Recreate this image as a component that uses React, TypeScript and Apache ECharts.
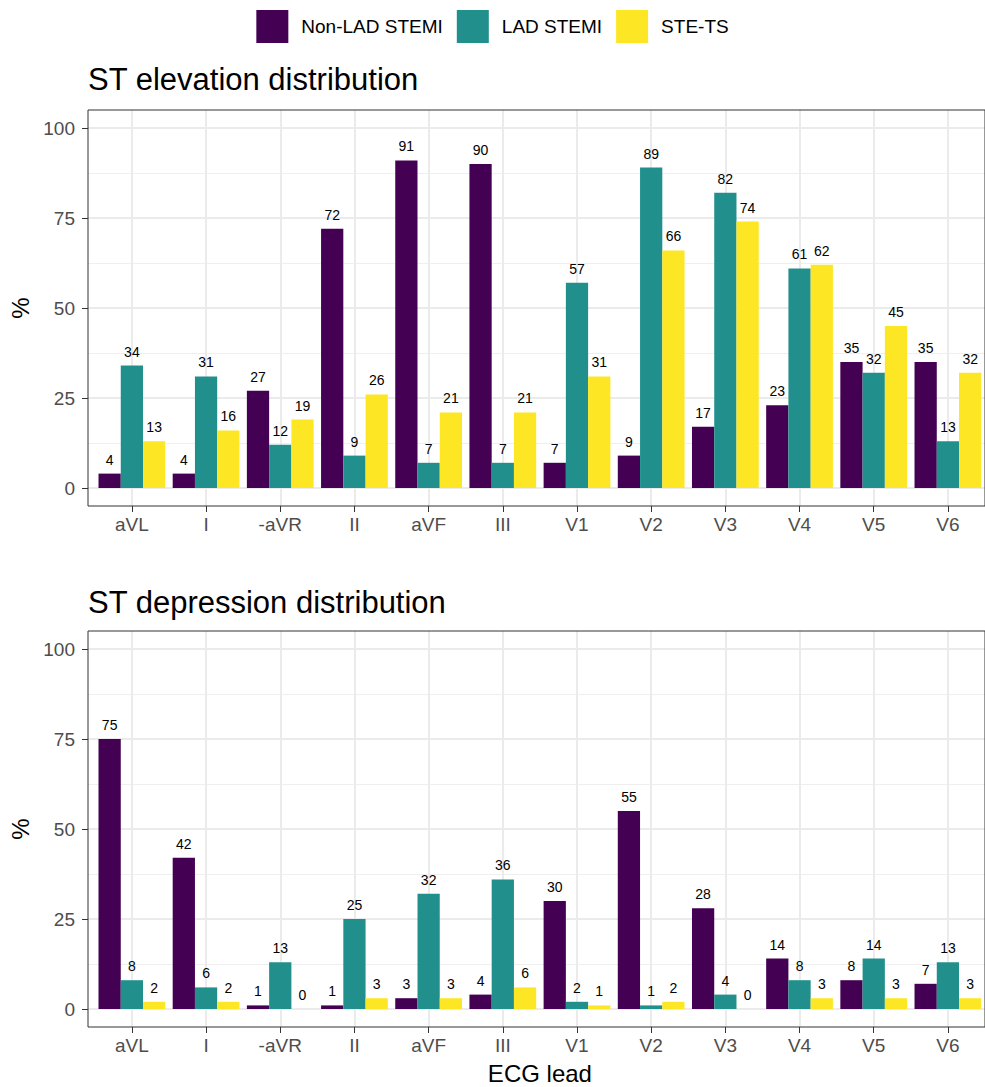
import React, { useEffect, useRef } from "react";
import * as echarts from "echarts";

const categories = ["aVL", "I", "-aVR", "II", "aVF", "III", "V1", "V2", "V3", "V4", "V5", "V6"];
const seriesNames = ["Non-LAD STEMI", "LAD STEMI", "STE-TS"];
const seriesColors = ["#440154", "#21908C", "#FDE725"];

const elevationNonLAD = [4, 4, 27, 72, 91, 90, 7, 9, 17, 23, 35, 35];
const elevationLAD = [34, 31, 12, 9, 7, 7, 57, 89, 82, 61, 32, 13];
const elevationSTETS = [13, 16, 19, 26, 21, 21, 31, 66, 74, 62, 45, 32];

const depressionNonLAD = [75, 42, 1, 1, 3, 4, 30, 55, 28, 14, 8, 7];
const depressionLAD = [8, 6, 13, 25, 32, 36, 2, 1, 4, 8, 14, 13];
const depressionSTETS = [2, 2, 0, 3, 3, 6, 1, 2, 0, 3, 3, 3];

const majorBreaks = [0, 25, 50, 75, 100];
const minorBreaks = [12.5, 37.5, 62.5, 87.5];

const panelTitles = ["ST elevation distribution", "ST depression distribution"];

const FONT = "'Liberation Sans', Arial, Helvetica, sans-serif";

export default function App() {
  const ref = useRef<HTMLDivElement>(null);

  useEffect(() => {
    if (!ref.current) return;
    const chart = echarts.init(ref.current, undefined, { renderer: "svg" });

    const panels = [
      [elevationNonLAD, elevationLAD, elevationSTETS],
      [depressionNonLAD, depressionLAD, depressionSTETS],
    ];
    const gridTops = [110, 631];
    const titleTops = [64, 587];
    const frameLeft = 88;
    const dataLeft = 94.8;

    // grids 0,1: data grids (category expansion like ggplot); grids 2,3: panel frames
    const grids: any[] = [
      ...gridTops.map((t) => ({ left: dataLeft, right: -3, top: t, height: 396, show: false })),
      ...gridTops.map((t) => ({
        left: frameLeft,
        right: -10,
        top: t,
        height: 396,
        show: true,
        borderColor: "#333333",
        borderWidth: 1,
        backgroundColor: "transparent",
        z: 3,
      })),
    ];

    const xAxes: any[] = [
      ...gridTops.map((_, g) => ({
        gridIndex: g,
        type: "category",
        data: categories,
        axisLine: { show: false, onZero: false },
        axisTick: { show: true, alignWithLabel: true, length: 6, lineStyle: { color: "#333333", width: 1 } },
        axisLabel: { fontSize: 19, color: "#4d4d4d", margin: 9, fontFamily: FONT },
        splitLine: { show: false },
        ...(g === 1
          ? {
              name: "ECG lead",
              nameLocation: "middle",
              nameGap: 34,
              nameTextStyle: { fontSize: 24, color: "#000000", fontFamily: FONT },
            }
          : {}),
      })),
      ...gridTops.map((_, g) => ({
        gridIndex: g + 2,
        type: "category",
        data: categories,
        show: false,
      })),
    ];

    const yAxes: any[] = [
      ...gridTops.map((_, g) => ({
        gridIndex: g,
        type: "value",
        min: -5,
        max: 105,
        offset: dataLeft - frameLeft,
        name: "%",
        nameLocation: "middle",
        nameGap: 54,
        nameTextStyle: { fontSize: 24, color: "#000000", fontFamily: FONT },
        axisLine: { show: false },
        axisTick: { show: true, customValues: majorBreaks, length: 6, lineStyle: { color: "#333333", width: 1 } },
        axisLabel: { customValues: majorBreaks, fontSize: 19, color: "#4d4d4d", margin: 13, fontFamily: FONT },
        splitLine: { show: false },
      })),
      ...gridTops.map((_, g) => ({
        gridIndex: g + 2,
        type: "value",
        min: -5,
        max: 105,
        show: false,
        splitLine: { show: false },
      })),
    ];

    const series: any[] = [];
    panels.forEach((panel, g) => {
      // horizontal grid lines across the full panel frame
      series.push({
        type: "line",
        name: "_hgrid" + g,
        xAxisIndex: g + 2,
        yAxisIndex: g + 2,
        data: [],
        silent: true,
        markLine: {
          silent: true,
          z: 1,
          symbol: ["none", "none"],
          label: { show: false },
          emphasis: { disabled: true },
          data: [
            ...minorBreaks.map((v) => ({ yAxis: v, lineStyle: { color: "#efefef", width: 1, type: "solid" } })),
            ...majorBreaks.map((v) => ({ yAxis: v, lineStyle: { color: "#ebebeb", width: 2, type: "solid" } })),
          ],
        },
      });
      // vertical grid lines at category centres
      series.push({
        type: "line",
        name: "_vgrid" + g,
        xAxisIndex: g,
        yAxisIndex: g,
        data: [],
        silent: true,
        markLine: {
          silent: true,
          z: 1,
          symbol: ["none", "none"],
          label: { show: false },
          emphasis: { disabled: true },
          data: categories.map((c) => ({ xAxis: c, lineStyle: { color: "#ebebeb", width: 2, type: "solid" } })),
        },
      });
      panel.forEach((vals, i) => {
        series.push({
          type: "bar",
          name: seriesNames[i],
          xAxisIndex: g,
          yAxisIndex: g,
          data: vals,
          z: 2,
          barGap: "0%",
          barCategoryGap: "10%",
          itemStyle: { color: seriesColors[i] },
          label: {
            show: true,
            position: "top",
            distance: 7,
            fontSize: 14,
            color: "#000000",
            fontFamily: FONT,
          },
        });
      });
    });

    chart.setOption({
      animation: false,
      backgroundColor: "#ffffff",
      textStyle: { fontFamily: FONT },
      title: panelTitles.map((t, g) => ({
        text: t,
        left: 88,
        top: titleTops[g],
        padding: 0,
        textStyle: { fontSize: 31, fontWeight: "normal", color: "#000000", fontFamily: FONT },
      })),
      legend: {
        data: seriesNames,
        top: 10,
        left: "center",
        padding: 0,
        itemWidth: 32,
        itemHeight: 33,
        itemGap: 14,
        icon: "rect",
        selectedMode: false,
        textStyle: { fontSize: 19, color: "#000000", padding: [0, 0, 0, 8], fontFamily: FONT },
      },
      grid: grids,
      xAxis: xAxes,
      yAxis: yAxes,
      series,
    });

    return () => chart.dispose();
  }, []);

  return (
    <div
      ref={ref}
      style={{ position: "absolute", left: 0, top: 0, width: 985, height: 1087, background: "#fff" }}
    />
  );
}
